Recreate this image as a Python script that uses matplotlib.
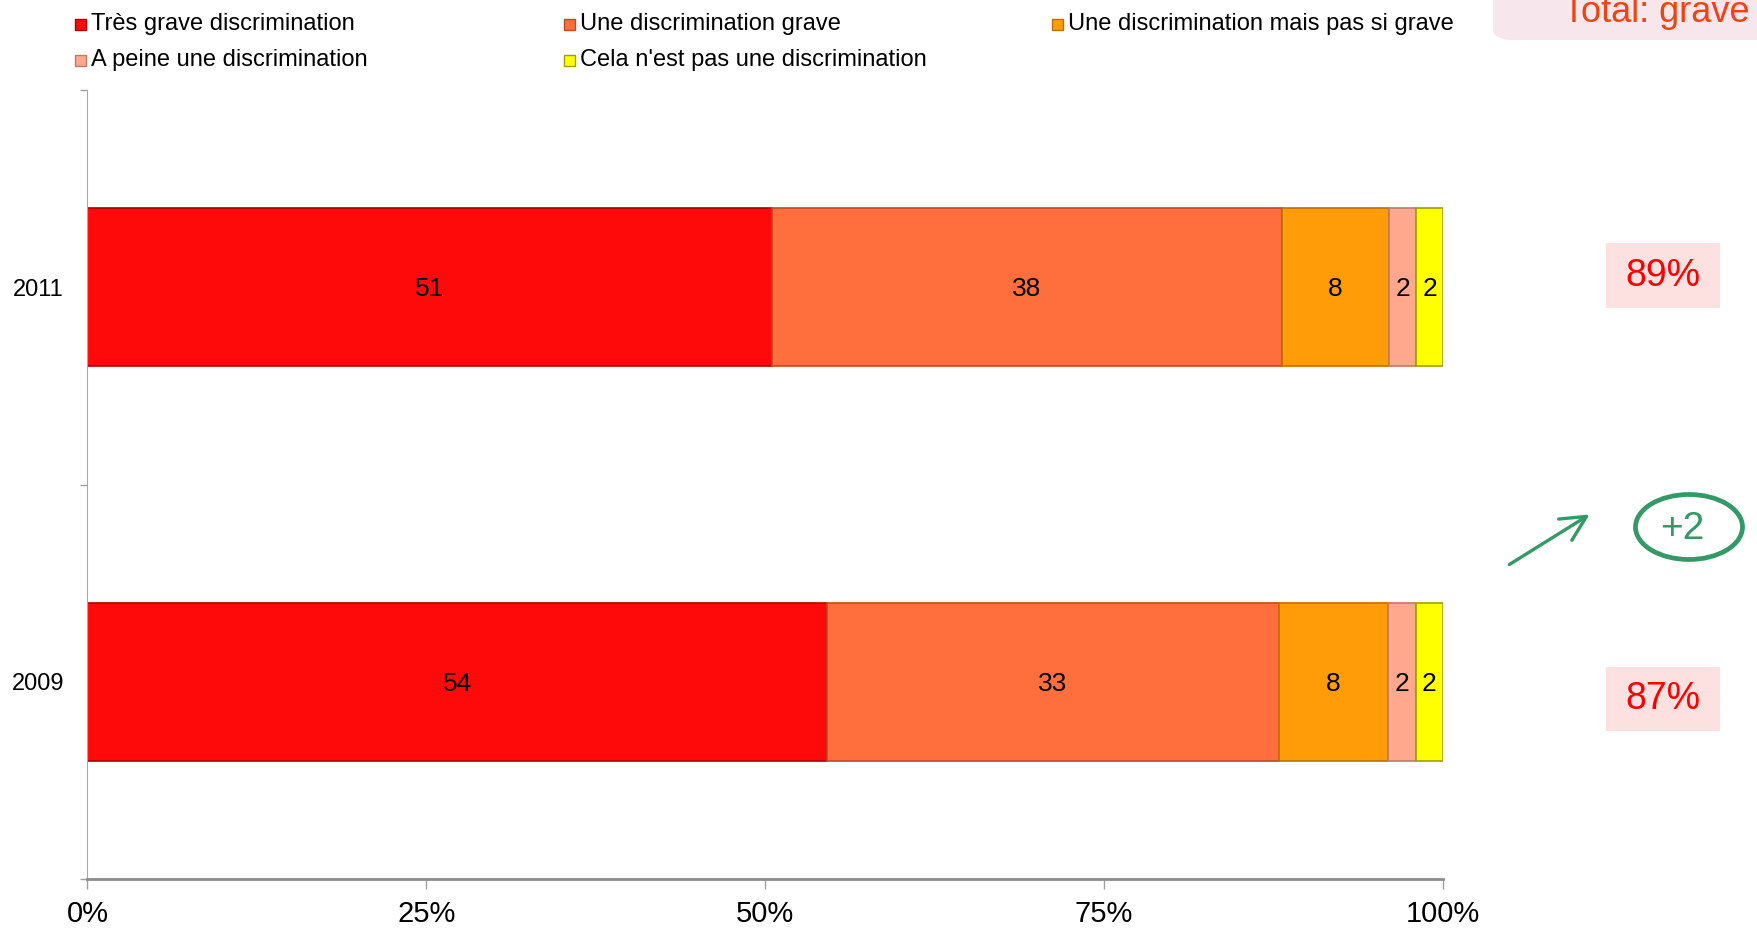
import numpy as np
import matplotlib
matplotlib.use("Agg")
import matplotlib.pyplot as plt
from matplotlib.patches import Rectangle, FancyBboxPatch, Ellipse, FancyArrowPatch
from matplotlib.ticker import FuncFormatter

plt.rcParams['font.family'] = ['Liberation Sans', 'DejaVu Sans']

# data
years = ["2009", "2011"]
series = ["Très grave discrimination", "Une discrimination grave",
          "Une discrimination mais pas si grave", "A peine une discrimination",
          "Cela n'est pas une discrimination"]
values = {
    "2009": [54, 33, 8, 2, 2],
    "2011": [51, 38, 8, 2, 2],
}
colors = ["#FF0A0A", "#FF6E3C", "#FF9C08", "#FFA88E", "#FFFF00"]
edges = ["#B00000", "#C04A20", "#C07000", "#C07A66", "#A0A000"]
ticks = [0, 0.25, 0.5, 0.75, 1.0]

W, H = 1758, 930
fig = plt.figure(figsize=(W / 100, H / 100), dpi=100)
ax = fig.add_axes([87.5 / W, 1 - 879 / H, (1443 - 87.5) / W, (879 - 90) / H])

ypos = np.arange(len(years))
for yi, year in zip(ypos, years):
    vals = np.array(values[year], dtype=float)
    shares = vals / vals.sum()  # 100% stacked
    left = 0.0
    for k, (v, s) in enumerate(zip(vals, shares)):
        ax.barh(yi, s, left=left, height=0.4, color=colors[k],
                edgecolor=edges[k], linewidth=1.2)
        ax.text(left + s / 2, yi - 0.005, f"{int(v)}", ha="center", va="center",
                fontsize=19, color="black")
        left += s

ax.set_xlim(0, 1)
ax.set_ylim(-0.5, 1.5)
ax.set_xticks(ticks)
ax.xaxis.set_major_formatter(FuncFormatter(lambda x, p: f"{int(round(x * 100))}%"))
ax.tick_params(axis="x", labelsize=21, length=7, width=1, color="#A0A0A0", pad=8)
ax.set_yticks(ypos)
ax.set_yticklabels(years, fontsize=17)
ax.set_yticks([-0.5, 0.5, 1.5], minor=True)
ax.tick_params(axis="y", which="major", length=0, pad=17)
ax.tick_params(axis="y", which="minor", length=5, width=1, color="#A0A0A0")
for side in ["top", "right"]:
    ax.spines[side].set_visible(False)
ax.spines["left"].set_color("#A8A8A8")
ax.spines["bottom"].set_color("#8C8C8C")
ax.spines["bottom"].set_linewidth(2)

# legend, laid out as in the original
leg_x = [75, 564, 1052, 75, 564]
leg_y = [24, 24, 24, 60, 60]
for k, name in enumerate(series):
    fx, fy = leg_x[k] / W, 1 - leg_y[k] / H
    fig.patches.append(Rectangle((fx, fy - 6 / H), 11 / W, 11 / H,
                                 transform=fig.transFigure, facecolor=colors[k],
                                 edgecolor=edges[k], linewidth=1))
    fig.text(fx + 16 / W, fy, name, fontsize=17, va="center", ha="left")

# "Total: grave" header box
fig.patches.append(FancyBboxPatch((1493 / W, 1 - 40 / H), 400 / W, 80 / H,
                                  boxstyle="round,pad=0,rounding_size=0.012",
                                  transform=fig.transFigure, facecolor="#F7E6EC",
                                  edgecolor="none"))
fig.text(1563 / W, 1 - 22 / H, "Total: grave", fontsize=26, color="#EE4411",
         ha="left", va="baseline")

# totals (first two categories) per year
totals = {y: values[y][0] + values[y][1] for y in years}
box_y = {"2011": (243, 308), "2009": (667, 731)}
for year in years:
    y0, y1 = box_y[year]
    fig.patches.append(Rectangle((1606 / W, 1 - y1 / H), 114 / W, (y1 - y0) / H,
                                 transform=fig.transFigure, facecolor="#FDE0E0",
                                 edgecolor="none"))
    fig.text(1663 / W, 1 - (y0 + y1) / 2 / H, f"{totals[year]}%", fontsize=27,
             color="#FF0000", ha="center", va="center")

# change between years
green = "#339966"
diff = totals["2011"] - totals["2009"]
fig.patches.append(FancyArrowPatch((1507 / W, 1 - 566 / H), (1592 / W, 1 - 513 / H),
                                   transform=fig.transFigure, arrowstyle="->,head_length=12,head_width=6",
                                   color=green, linewidth=2.4, mutation_scale=1.5))
fig.patches.append(Ellipse((1689 / W, 1 - 527 / H), 107 / W, 65 / H,
                           transform=fig.transFigure, facecolor="none",
                           edgecolor=green, linewidth=3.4))
fig.text(1682 / W, 1 - 529 / H, f"+{diff}", fontsize=28, color=green,
         ha="center", va="center")

fig.savefig("out.png", dpi=100)
